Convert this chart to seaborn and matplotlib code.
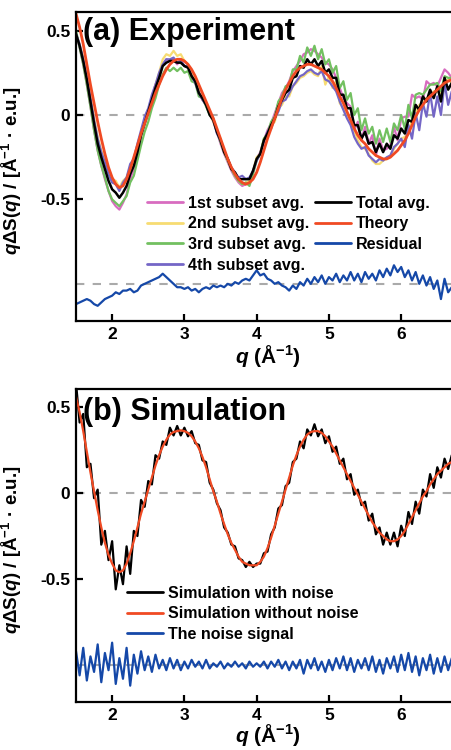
import numpy as np
import pandas as pd
import matplotlib
matplotlib.use('Agg')
import matplotlib.pyplot as plt
import seaborn as sns

sns.set_theme(style='ticks')
plt.rcParams['font.family'] = ['Liberation Sans', 'DejaVu Sans']
plt.rcParams['font.weight'] = 'bold'
plt.rcParams['axes.labelweight'] = 'bold'
plt.rcParams['mathtext.fontset'] = 'custom'
plt.rcParams['mathtext.rm'] = 'Liberation Sans:bold'
plt.rcParams['mathtext.it'] = 'Liberation Sans:bold:italic'
plt.rcParams['mathtext.bf'] = 'Liberation Sans:bold'
plt.rcParams['axes.linewidth'] = 1.6
for key in ['text.color', 'axes.labelcolor', 'xtick.color', 'ytick.color',
            'axes.edgecolor']:
    plt.rcParams[key] = 'black'

# q grid (1/Angstrom), 0.05 steps from 1.5 to 6.7
q = np.round(np.arange(1.5, 6.7001, 0.05), 2)

# ---- panel (a) experiment ----
theory_a = [
    0.60, 0.52, 0.42, 0.30, 0.18, 0.07, -0.04, -0.14, -0.23, -0.31, -0.37,
    -0.41, -0.43, -0.42, -0.38, -0.32, -0.25, -0.18, -0.11, -0.05, 0.01,
    0.07, 0.13, 0.18, 0.23, 0.27, 0.30, 0.32, 0.33, 0.33, 0.32,
    0.30, 0.27, 0.23, 0.18, 0.13, 0.08, 0.03, -0.02, -0.08, -0.14,
    -0.20, -0.26, -0.31, -0.35, -0.38, -0.40, -0.41, -0.40, -0.38, -0.34,
    -0.28, -0.21, -0.14, -0.08, -0.02, 0.04, 0.10, 0.15, 0.19, 0.23,
    0.26, 0.28, 0.29, 0.30, 0.30, 0.29, 0.28, 0.27, 0.25, 0.23,
    0.20, 0.16, 0.11, 0.07, 0.02, -0.03, -0.08, -0.12, -0.15, -0.17,
    -0.20, -0.22, -0.24, -0.25, -0.26, -0.26, -0.25, -0.23, -0.21, -0.18,
    -0.15, -0.11, -0.06, -0.01, 0.03, 0.06, 0.09, 0.11, 0.13, 0.15,
    0.17, 0.19, 0.20, 0.21,
]
residual_a = [
    -0.12, -0.11, -0.10, -0.09, -0.10, -0.12, -0.13, -0.11, -0.09, -0.08, -0.07,
    -0.05, -0.06, -0.04, -0.04, -0.03, -0.05, -0.04, -0.01, 0.00, 0.01,
    0.02, 0.03, 0.04, 0.06, 0.04, 0.02, 0.00, -0.02, -0.02, -0.03,
    -0.02, -0.04, -0.03, -0.05, -0.03, -0.02, -0.03, -0.01, -0.02, -0.01,
    -0.02, 0.00, -0.01, 0.01, 0.00, 0.02, 0.03, 0.02, 0.05, 0.08,
    0.05, 0.06, 0.03, 0.02, 0.00, 0.01, -0.01, -0.02, -0.04, -0.01,
    -0.03, 0.01, -0.01, 0.03, 0.00, 0.04, 0.01, 0.05, 0.00, 0.04,
    0.02, 0.06, 0.01, 0.05, 0.02, 0.07, 0.02, 0.06, 0.01, 0.07,
    0.03, 0.06, 0.02, 0.08, 0.04, 0.09, 0.05, 0.11, 0.07, 0.10,
    0.04, 0.08, 0.02, 0.07, 0.00, 0.05, -0.01, 0.04, -0.03, 0.02,
    -0.09, 0.03, -0.05, -0.02,
]
# deviation of each subset average from the total average
dev_sub1 = [
    0.00, -0.01, -0.02, -0.03, -0.03, -0.04, -0.04, -0.05, -0.06, -0.06, -0.07,
    -0.08, -0.07, -0.06, -0.05, -0.03, -0.02, -0.01, 0.00, 0.01, 0.00,
    0.01, 0.02, 0.00, 0.01, 0.02, 0.00, 0.01, -0.01, 0.02, 0.00,
    0.01, -0.01, 0.00, 0.02, -0.01, 0.00, 0.01, -0.01, 0.00, -0.02,
    -0.01, -0.02, -0.01, -0.03, -0.02, -0.04, -0.03, -0.02, -0.01, 0.00,
    0.01, 0.00, 0.02, 0.01, 0.03, 0.02, 0.04, 0.03, 0.05, 0.04,
    0.06, 0.03, 0.08, 0.04, 0.09, 0.05, 0.07, 0.02, 0.06, 0.03,
    0.05, 0.00, 0.04, -0.02, 0.03, 0.01, -0.03, 0.02, -0.01, 0.03,
    0.00, 0.04, -0.02, 0.03, 0.01, -0.03, 0.02, 0.05, -0.01, 0.06,
    0.10, 0.02, 0.16, 0.04, 0.08, -0.02, 0.12, 0.03, 0.09, 0.00,
    0.14, 0.05, 0.10, 0.03,
]
dev_sub2 = [
    0.00, 0.01, 0.02, 0.02, 0.03, 0.03, 0.04, 0.04, 0.05, 0.05, 0.06,
    0.07, 0.06, 0.07, 0.05, 0.04, 0.03, 0.02, 0.01, 0.02, 0.00,
    0.01, 0.02, 0.03, 0.04, 0.05, 0.03, 0.06, 0.04, 0.05, 0.03,
    0.02, 0.01, 0.00, 0.01, -0.01, 0.00, 0.01, -0.01, 0.00, 0.01,
    0.00, -0.01, 0.01, -0.02, -0.01, -0.03, -0.02, -0.01, 0.00, 0.01,
    0.00, 0.01, -0.01, 0.00, -0.02, -0.01, -0.03, -0.02, -0.04, -0.05,
    -0.04, -0.07, -0.05, -0.08, -0.04, -0.09, -0.06, -0.03, -0.07, -0.04,
    -0.06, -0.02, -0.05, -0.08, -0.04, -0.07, -0.03, -0.09, -0.05, -0.10,
    -0.06, -0.11, -0.07, -0.12, -0.05, -0.09, -0.04, -0.08, -0.03, -0.06,
    -0.02, -0.07, 0.01, -0.05, 0.03, -0.04, 0.02, -0.06, 0.04, -0.03,
    0.05, -0.02, 0.06, 0.00,
]
dev_sub3 = [
    0.02, -0.01, -0.02, -0.03, -0.03, -0.04, -0.04, -0.05, -0.05, -0.06, -0.06,
    -0.06, -0.05, -0.05, -0.06, -0.05, -0.06, -0.05, -0.06, -0.05, -0.06,
    -0.05, -0.06, -0.04, -0.05, -0.03, -0.06, -0.04, -0.05, -0.03, -0.04,
    -0.02, -0.03, -0.01, -0.02, 0.00, -0.01, 0.00, 0.01, 0.00, -0.01,
    0.00, -0.01, 0.00, -0.02, -0.01, -0.03, -0.02, -0.04, -0.02, -0.01,
    0.00, 0.01, 0.00, 0.02, 0.01, 0.03, 0.02, 0.04, 0.03, 0.05,
    0.04, 0.06, 0.03, 0.07, 0.05, 0.08, 0.04, 0.07, 0.05, 0.06,
    0.03, 0.07, 0.04, 0.08, 0.05, 0.09, 0.06, 0.10, 0.05, 0.08,
    0.06, 0.09, 0.05, 0.08, 0.06, 0.09, 0.04, 0.07, 0.05, 0.08,
    0.03, 0.09, 0.02, 0.06, 0.10, 0.01, 0.07, 0.03, 0.08, 0.02,
    0.06, 0.01, 0.07, 0.03,
]
dev_sub4 = [
    0.00, 0.01, 0.01, 0.02, 0.02, 0.02, 0.03, 0.03, 0.04, 0.04, 0.04,
    0.05, 0.04, 0.06, 0.05, 0.06, 0.04, 0.05, 0.03, 0.04, 0.02,
    0.03, 0.02, 0.03, 0.01, 0.02, 0.01, 0.02, 0.00, 0.01, 0.00,
    0.01, 0.00, -0.01, 0.00, -0.01, 0.00, 0.01, 0.00, -0.01, 0.00,
    0.01, 0.00, 0.01, 0.00, 0.01, 0.02, 0.00, 0.01, 0.00, -0.01,
    0.00, -0.01, 0.01, -0.02, 0.00, -0.03, -0.01, -0.04, -0.02, -0.05,
    -0.03, -0.06, -0.04, -0.07, -0.03, -0.08, -0.05, -0.06, -0.04, -0.07,
    -0.05, -0.08, -0.04, -0.09, -0.06, -0.10, -0.07, -0.11, -0.06, -0.09,
    -0.07, -0.10, -0.06, -0.09, -0.05, -0.08, -0.04, -0.07, -0.03, -0.06,
    -0.08, -0.03, -0.10, -0.05, -0.12, -0.04, -0.09, -0.02, -0.11, -0.06,
    -0.08, -0.03, -0.09, -0.05,
]

# ---- panel (b) simulation ----
theory_b = [
    0.56, 0.47, 0.36, 0.24, 0.12, 0.01, -0.10, -0.20, -0.29, -0.36, -0.41,
    -0.45, -0.46, -0.45, -0.41, -0.35, -0.28, -0.20, -0.12, -0.05, 0.02,
    0.09, 0.16, 0.22, 0.27, 0.31, 0.34, 0.355, 0.36, 0.365, 0.36,
    0.35, 0.33, 0.30, 0.26, 0.21, 0.15, 0.08, 0.01, -0.05, -0.12,
    -0.18, -0.24, -0.29, -0.33, -0.37, -0.40, -0.41, -0.42, -0.42, -0.42,
    -0.40, -0.37, -0.32, -0.26, -0.19, -0.12, -0.05, 0.02, 0.09, 0.16,
    0.22, 0.27, 0.31, 0.34, 0.355, 0.36, 0.36, 0.35, 0.33, 0.30,
    0.27, 0.23, 0.19, 0.15, 0.11, 0.07, 0.03, -0.01, -0.05, -0.09,
    -0.13, -0.17, -0.20, -0.23, -0.25, -0.27, -0.28, -0.28, -0.27, -0.25,
    -0.22, -0.18, -0.14, -0.10, -0.06, -0.02, 0.01, 0.05, 0.08, 0.11,
    0.13, 0.15, 0.17, 0.18,
]
noise_b = [
    0.08, -0.06, 0.10, -0.09, 0.05, -0.04, 0.12, -0.10, 0.07, -0.03, 0.13,
    -0.11, 0.04, -0.08, 0.10, -0.12, 0.06, -0.05, 0.08, -0.03, 0.05,
    -0.04, 0.06, -0.02, 0.03, -0.03, 0.04, -0.02, 0.03, -0.03, 0.02,
    -0.02, 0.03, -0.01, 0.02, -0.02, 0.03, -0.02, 0.01, -0.01, 0.02,
    -0.02, 0.01, -0.01, 0.02, -0.01, 0.01, -0.02, 0.02, -0.01, 0.01,
    -0.01, 0.02, -0.02, 0.02, -0.01, 0.03, -0.02, 0.02, -0.03, 0.02,
    -0.02, 0.03, -0.05, 0.03, -0.02, 0.04, -0.03, 0.02, -0.04, 0.03,
    -0.03, 0.04, -0.02, 0.05, -0.03, 0.04, -0.04, 0.03, -0.02, 0.04,
    -0.03, 0.05, -0.04, 0.03, -0.05, 0.04, -0.02, 0.05, -0.04, 0.06,
    -0.03, 0.07, -0.04, 0.05, -0.06, 0.04, -0.03, 0.06, -0.05, 0.04,
    -0.04, 0.05, -0.03, 0.04,
]
offset = -1.0

theory_a = np.array(theory_a)
total_a = theory_a + np.array(residual_a)
subsets = {
    '1st subset avg.': (total_a + np.array(dev_sub1), '#d86cc0'),
    '2nd subset avg.': (total_a + np.array(dev_sub2), '#f7dc72'),
    '3rd subset avg.': (total_a + np.array(dev_sub3), '#72c060'),
    '4th subset avg.': (total_a + np.array(dev_sub4), '#7466c6'),
}
theory_b = np.array(theory_b)
noisy_b = theory_b + np.array(noise_b)

red = '#f04a23'
blue = '#1548a8'
grey = '#aaaaaa'

fig = plt.figure(figsize=(4.51, 7.5), dpi=100)
ax1 = fig.add_axes([76 / 451, 1 - 321 / 750, 383 / 451, 309 / 750])
ax2 = fig.add_axes([76 / 451, 1 - 702 / 750, 383 / 451, 313 / 750])

for ax in (ax1, ax2):
    ax.axhline(0, color=grey, ls=(0, (4, 4)), lw=1.5, zorder=0)
    ax.axhline(offset, color=grey, ls=(0, (4, 4)), lw=1.5, zorder=0)

for name, (vals, col) in subsets.items():
    sns.lineplot(x=q, y=vals, ax=ax1, color=col, lw=1.6, label=name)
sns.lineplot(x=q, y=total_a, ax=ax1, color='black', lw=1.8, label='Total avg.')
sns.lineplot(x=q, y=theory_a, ax=ax1, color=red, lw=2.0, label='Theory')
sns.lineplot(x=q, y=total_a - theory_a + offset, ax=ax1, color=blue, lw=1.6,
             label='Residual')

sns.lineplot(x=q, y=noisy_b, ax=ax2, color='black', lw=1.6,
             label='Simulation with noise')
sns.lineplot(x=q, y=theory_b, ax=ax2, color=red, lw=1.6,
             label='Simulation without noise')
sns.lineplot(x=q, y=noisy_b - theory_b + offset, ax=ax2, color=blue, lw=1.6,
             label='The noise signal')

ax1.set_ylim(-1.22, 0.61)
ax2.set_ylim(-1.215, 0.605)
for ax, pad in ((ax1, 1), (ax2, -0.5)):
    ax.set_xlim(1.5, 6.8)
    ax.set_xticks([2, 3, 4, 5, 6])
    ax.set_xticklabels(['2', '3', '4', '5', '6'])
    ax.set_yticks([-0.5, 0, 0.5])
    ax.set_yticklabels(['-0.5', '0', '0.5'])
    ax.tick_params(direction='in', length=5, width=1.6, labelsize=12.5, pad=4)
    for lab in ax.get_xticklabels() + ax.get_yticklabels():
        lab.set_fontweight('bold')
    ax.set_xlabel(r'$q$ (Å$^{\mathrm{-1}}$)', fontsize=15, labelpad=pad)
    ax.set_ylabel(r'$q$ΔS($q$) / [Å$^{\mathrm{-1}}$ · e.u.]', fontsize=13.5)
    ax.yaxis.set_label_coords(-0.135, 0.485)

ax1.text(0.018, 0.985, '(a) Experiment', transform=ax1.transAxes,
         fontsize=22, fontweight='bold', va='top', ha='left')
ax2.text(0.018, 0.975, '(b) Simulation', transform=ax2.transAxes,
         fontsize=22, fontweight='bold', va='top', ha='left')

leg_kw = dict(frameon=False, fontsize=11.5, handlelength=2.25, handletextpad=0.3,
              labelspacing=0.35, borderpad=0, borderaxespad=0, loc='upper left')
leg1 = ax1.legend(ncol=2, columnspacing=0.4, bbox_to_anchor=(0.185, 0.405),
                  **leg_kw)
leg2 = ax2.legend(bbox_to_anchor=(0.133, 0.371), **leg_kw)
for leg in (leg1, leg2):
    for t in leg.get_texts():
        t.set_fontweight('bold')
    for h in leg.get_lines():
        h.set_linewidth(2.0)

fig.savefig('out.png', dpi=100)
